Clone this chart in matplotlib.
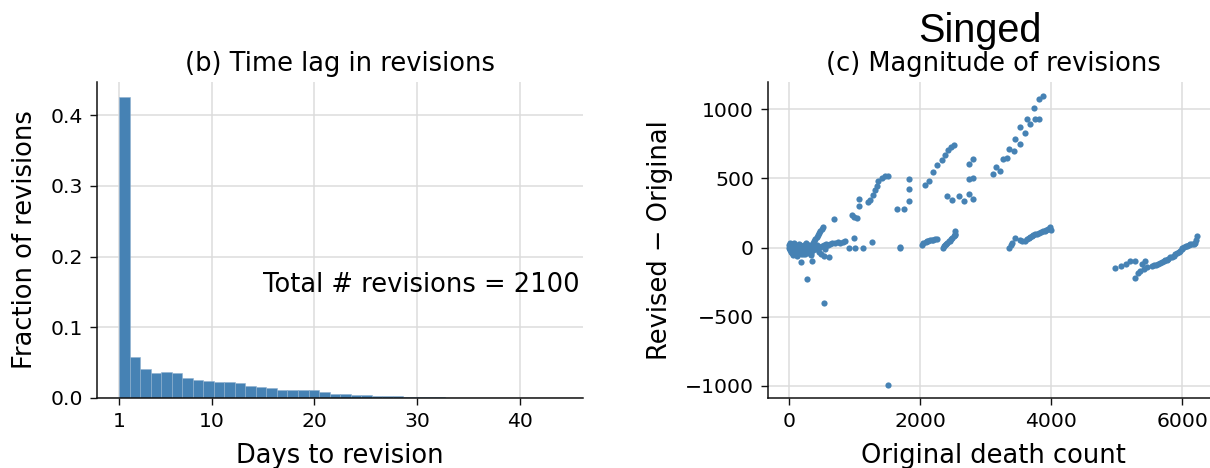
"""Revision lag histogram and revision magnitude scatter for the Singed series."""

import matplotlib

matplotlib.use("Agg")

import matplotlib.pyplot as plt
import numpy as np

BLUE = "#4682b4"
GRID = "#dcdcdc"

# (b) fraction of revisions per lag bin, 42 equal bins spanning days 1..44
day_min, day_max = 1, 44
lag_fractions = [
    0.4257, 0.0582, 0.0408, 0.0347, 0.0371, 0.0357, 0.0277, 0.0249, 0.0239,
    0.0230, 0.0225, 0.0207, 0.0174, 0.0160, 0.0136, 0.0117, 0.0117, 0.0117,
    0.0113, 0.0085, 0.0056, 0.0052, 0.0042, 0.0038, 0.0028, 0.0024, 0.0024,
    0.0014, 0.0014, 0.0010, 0.0010, 0.0005, 0.0, 0.0, 0.0, 0.0, 0.0, 0.0,
    0.0, 0.0, 0.0, 0.0005,
]
total_revisions = 2100

# (c) original death count vs. revised minus original
original_counts = [
    # cluster of small counts
    0, 5, 10, 15, 20, 25, 30, 35, 40, 45, 50, 55, 60, 65, 70, 80, 90, 100,
    110, 120, 130, 140, 150, 160, 170, 180, 190, 200, 210, 220, 230, 240,
    250, 260, 270, 280, 290, 300, 310, 320, 330, 340, 350, 360, 370, 380,
    390, 400, 410, 420, 430, 440, 450, 460, 470, 480, 490, 500, 510, 520,
    530, 540, 550, 560, 580, 600, 630, 660, 700, 740, 780, 820, 850,
    60, 120, 180, 240, 300, 150, 260, 330,
    # stray points
    178, 356, 280, 529, 1517, 616, 683, 921, 1013, 1135, 1695, 998, 1273,
    960, 995, 1040, 1069, 1069,
    # first rising band
    1201, 1240, 1278, 1313, 1349, 1364, 1415, 1466, 1507,
    1650, 1760, 1838, 1838, 1838, 1695,
    # second rising band
    2077, 2137, 2193, 2254, 2331, 2382, 2433, 2474, 2520,
    2418, 2494, 2596, 2672, 2749, 2810, 2749, 2810, 2749, 2810,
    # third rising band
    3105, 3157, 3223, 3259, 3325, 3351, 3427, 3453, 3519, 3529, 3595, 3631,
    3672, 3733, 3758, 3819, 3809, 3876,
    # flat band near 2000-2550
    2026, 2051, 2087, 2100, 2127, 2150, 2178, 2200, 2229, 2254, 2356, 2370,
    2382, 2400, 2418, 2440, 2458, 2470, 2494, 2510, 2525, 2530, 2535,
    # flat band near 3400-4000
    3351, 3387, 3400, 3453, 3529, 3560, 3595, 3630, 3656, 3680, 3707, 3730,
    3758, 3780, 3809, 3840, 3876, 3900, 3927, 3950, 3978, 3990,
    # band near 5000-6250
    4978, 5064, 5145, 5206, 5283, 5385, 5436, 5461, 5410, 5359, 5318, 5272,
    5538, 5570, 5604, 5635, 5665, 5690, 5716, 5740, 5767, 5790, 5818, 5840,
    5869, 5895, 5920, 5945, 5971, 5990, 6000, 6022, 6050, 6073, 6100, 6124,
    6150, 6175, 6200, 6211, 6226,
]
revision_deltas = [
    0, 20, -10, 35, -20, 10, -35, 5, 25, -15, -40, 0, 15, -25, -5, 30, -30,
    -10, 10, -45, 5, -20, -5, 15, -35, 0, -15, 10, -50, -5, 20, -25, 0, -10,
    15, -30, 5, -15, 20, -5, 10, -40, 5, 30, -20, 45, 0, 60, -10, 75, 15, 90,
    -30, 105, 5, 120, -45, 135, 10, 150, -60, 20, -10, 25, 15, 20, 25, 30,
    35, 40, 30, 40, 45,
    -55, -60, -50, -45, -40, 25, 30, -55,
    -106, -94, -227, -403, -991, -70, 205, -5, -5, -5, -5, 68, 43,
    232, 218, 215, 297, 352,
    328, 345, 379, 415, 441, 482, 501, 513, 520,
    280, 280, 333, 420, 495, 2,
    449, 481, 547, 595, 631, 667, 708, 727, 739,
    369, 340, 371, 333, 383, 352, 492, 504, 606, 638,
    529, 582, 553, 637, 649, 710, 698, 787, 745, 872, 824, 928,
    889, 1006, 926, 926, 1073, 1097,
    19, 36, 43, 45, 50, 52, 55, 57, 60, 62, -5, 10,
    19, 28, 36, 45, 50, 58, 67, 80, 91, 100, 116,
    -5, 19, 30, 72, 55, 50, 50, 60, 67, 75, 86, 90,
    96, 100, 104, 110, 116, 120, 128, 135, 145, 130,
    -150, -131, -118, -94, -99, -118, -94, -143, -155, -172, -184, -220,
    -131, -128, -123, -118, -114, -105, -99, -92, -87, -80, -70, -65,
    -58, -48, -39, -30, -22, -10, -5, 2, 8, 14, 18, 22,
    24, 26, 30, 51, 82,
]


def style_axes(ax: plt.Axes) -> None:
    """Light grid, left/bottom spines only, outward ticks."""

    ax.set_axisbelow(True)
    ax.grid(True, color=GRID, linewidth=1.1)
    for side in ("top", "right"):
        ax.spines[side].set_visible(False)
    for side in ("left", "bottom"):
        ax.spines[side].set_linewidth(1.1)
        ax.spines[side].set_color("#111111")
    ax.tick_params(labelsize=14.7, length=5, width=1.0, color="#111111", pad=5)


def main() -> None:
    plt.rcParams["font.family"] = ["DejaVu Sans"]
    fig = plt.figure(figsize=(12.1, 4.68), dpi=100)

    # (b) time lag histogram
    ax_lag = fig.add_axes([0.0802, 0.1496, 0.4017, 0.675])
    style_axes(ax_lag)
    edges = np.linspace(day_min, day_max, len(lag_fractions) + 1)
    ax_lag.bar(
        edges[:-1], lag_fractions, width=np.diff(edges), align="edge",
        color=BLUE, edgecolor="#8fb0cf", linewidth=0.4,
    )
    ax_lag.set_xlim(-1.15, 46.15)
    ax_lag.set_ylim(0, 0.447)
    ax_lag.set_xticks([1, 10, 20, 30, 40])
    ax_lag.set_yticks([0.0, 0.1, 0.2, 0.3, 0.4])
    ax_lag.set_xlabel("Days to revision", fontsize=18.5, labelpad=9)
    ax_lag.set_ylabel("Fraction of revisions", fontsize=18.5, labelpad=9)
    ax_lag.set_title("(b) Time lag in revisions", fontsize=18.5, pad=8)
    ax_lag.text(15, 0.15, f"Total # revisions = {total_revisions}", fontsize=18.5)

    # (c) magnitude scatter
    ax_mag = fig.add_axes([0.6347, 0.1496, 0.3727, 0.675])
    style_axes(ax_mag)
    ax_mag.scatter(original_counts, revision_deltas, s=20, color=BLUE, linewidths=0)
    ax_mag.set_xlim(-321, 6560)
    ax_mag.set_ylim(-1087, 1195)
    ax_mag.set_xticks([0, 2000, 4000, 6000])
    ax_mag.set_yticks([-1000, -500, 0, 500, 1000])
    ax_mag.set_xlabel("Original death count", fontsize=18.5, labelpad=9)
    ax_mag.set_ylabel("Revised \u2212 Original", fontsize=18.5, labelpad=9)
    ax_mag.set_title("(c) Magnitude of revisions", fontsize=18.5, pad=8)

    fig.text(0.81, 0.91, "Singed", fontsize=28.5, family="Liberation Sans",
             ha="center", va="baseline")

    fig.savefig("out.png", dpi=100)
    plt.close(fig)


if __name__ == "__main__":
    main()
